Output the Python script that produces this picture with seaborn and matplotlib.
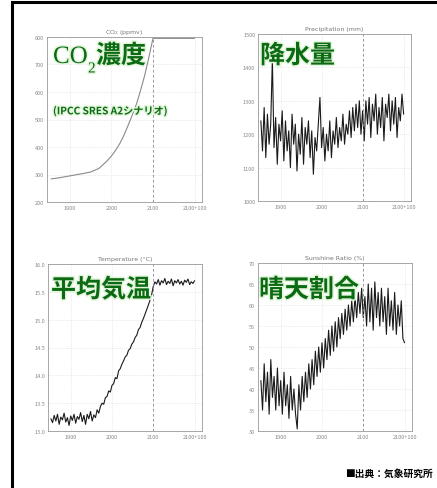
import numpy as np
import pandas as pd
import matplotlib
matplotlib.use('Agg')
import matplotlib.pyplot as plt
import matplotlib.patheffects as pe
from matplotlib.patches import Rectangle
import seaborn as sns

# years sampled every 4 years (1852 .. 2200)
years = list(range(1852, 2201, 4))

co2_years = [1855, 1870, 1900, 1930, 1950, 1970, 1990, 2000, 2010, 2020, 2030,
             2040, 2050, 2060, 2070, 2080, 2090, 2100, 2150, 2200]
co2_ppmv = [284, 287, 295, 303, 309, 322, 350, 367, 388, 412, 442,
            478, 515, 555, 605, 660, 725, 795, 795, 795]

precip_mm = [1240, 1150, 1280, 1130, 1260, 1170, 1230, 1425, 1160, 1250,
             1110, 1230, 1180, 1270, 1120, 1240, 1150, 1210, 1100, 1260,
             1170, 1230, 1090, 1200, 1140, 1250, 1110, 1220, 1170, 1240,
             1130, 1210, 1080, 1190, 1150, 1230, 1310, 1160, 1220, 1120,
             1200, 1150, 1240, 1130, 1210, 1170, 1250, 1160, 1220, 1180,
             1260, 1170, 1230, 1200, 1270, 1190, 1280, 1210, 1290, 1220,
             1300, 1200, 1270, 1180, 1300, 1230, 1310, 1190, 1290, 1240,
             1320, 1200, 1280, 1220, 1310, 1180, 1290, 1250, 1320, 1210,
             1300, 1230, 1310, 1190, 1280, 1240, 1320, 1260]

temp_c = [13.22, 13.15, 13.28, 13.18, 13.30, 13.12, 13.25, 13.20, 13.32, 13.16,
          13.24, 13.10, 13.27, 13.19, 13.30, 13.14, 13.26, 13.21, 13.33, 13.17,
          13.28, 13.12, 13.30, 13.22, 13.35, 13.18, 13.29, 13.24, 13.38, 13.32,
          13.44, 13.50, 13.48, 13.60, 13.62, 13.72, 13.70, 13.82, 13.85, 13.96,
          13.94, 14.08, 14.12, 14.20, 14.26, 14.33, 14.36, 14.45, 14.48, 14.56,
          14.60, 14.68, 14.72, 14.82, 14.86, 14.95, 15.02, 15.10, 15.18, 15.26,
          15.35, 15.45, 15.60, 15.68, 15.64, 15.72, 15.62, 15.70, 15.66, 15.74,
          15.63, 15.69, 15.65, 15.73, 15.61, 15.70, 15.66, 15.72, 15.64, 15.69,
          15.62, 15.71, 15.67, 15.73, 15.63, 15.68, 15.65, 15.70]

sunshine_pct = [42, 35, 46, 37, 44, 34, 47, 38, 43, 35,
                45, 36, 42, 34, 44, 36, 41, 33, 43, 35,
                40, 34, 30.5, 41, 35, 43, 37, 44, 38, 46,
                40, 47, 41, 49, 43, 50, 44, 51, 45, 52,
                47, 54, 48, 55, 49, 56, 50, 57, 52, 58,
                53, 59, 54, 60, 55, 61, 56, 62, 57, 63,
                58, 64, 57, 62, 55, 65, 56, 64, 54, 65.5,
                57, 63, 55, 64, 56, 62, 53, 64, 55, 61,
                54, 63, 53, 60, 55, 61, 52, 51]

x_ticks = [1900, 2000, 2100, 2200]
x_ticklabels = ['1900', '2000', '2100', '2100+100']

W, H = 437, 489

sns.set_style('white')
plt.rcParams['font.family'] = ['Noto Sans CJK JP', 'DejaVu Sans']

fig = plt.figure(figsize=(W / 100, H / 100), dpi=100)
fig.patch.set_facecolor('white')


def px_axes(left, top, right, bottom):
    return fig.add_axes([left / W, 1 - bottom / H, (right - left) / W, (bottom - top) / H])


def style_axes(ax, title, ylim, yticks):
    ax.set_xlim(1845, 2218)
    ax.set_ylim(*ylim)
    ax.set_xticks(x_ticks)
    ax.set_xticklabels(x_ticklabels)
    ax.set_yticks(yticks)
    ax.set_xlabel('')
    ax.set_ylabel('')
    ax.tick_params(labelsize=4, colors='#888888', length=2, width=0.4, pad=2, direction='in')
    ax.grid(True, linestyle=':', color='#d8d8d8', linewidth=0.5)
    for s in ax.spines.values():
        s.set_color('#999999')
        s.set_linewidth(0.6)
    ax.axvline(2100, color='#888888', linestyle=(0, (3, 3)), linewidth=0.6)
    ax.set_title(title, fontsize=4.5, color='#777777', pad=3, family='DejaVu Sans')


glow = [pe.withStroke(linewidth=2.2, foreground='#e2f6dc')]
green = '#0b6a12'


def big_label(x, y, s, size=18):
    fig.text(x / W, 1 - y / H, s, fontsize=size, color=green, fontweight='bold',
             va='center', ha='left', path_effects=glow)


# CO2
ax1 = px_axes(47, 38, 202, 203)
sns.lineplot(x=co2_years, y=co2_ppmv, ax=ax1, color='#8a8a8a', linewidth=0.8)
style_axes(ax1, 'CO$_2$ (ppmv)', (200, 800), range(200, 801, 100))

# precipitation
ax2 = px_axes(258, 35, 411, 202)
sns.lineplot(x=years, y=precip_mm, ax=ax2, color='#1a1a1a', linewidth=0.8)
style_axes(ax2, 'Precipitation (mm)', (1000, 1500), range(1000, 1501, 100))

# temperature
ax3 = px_axes(48, 265, 202, 432)
sns.lineplot(x=years, y=temp_c, ax=ax3, color='#1a1a1a', linewidth=0.8)
style_axes(ax3, 'Temperature (°C)', (13, 16), np.arange(13, 16.01, 0.5))

# sunshine ratio
ax4 = px_axes(258, 264, 412, 432)
sns.lineplot(x=years, y=sunshine_pct, ax=ax4, color='#1a1a1a', linewidth=0.8)
style_axes(ax4, 'Sunshine Ratio (%)', (30, 70), range(30, 71, 5))

# green overlay labels
fig.text(53 / W, 1 - 58 / H, 'CO', fontsize=18, color=green, va='center', ha='left',
         path_effects=glow, family='Liberation Serif')
fig.text(88 / W, 1 - 70 / H, '2', fontsize=11, color=green, va='center', ha='left',
         path_effects=glow, family='Liberation Serif')
big_label(96, 57, '濃度')
fig.text(53 / W, 1 - 112 / H, '(IPCC SRES A2シナリオ)', fontsize=7.3, color=green,
         fontweight='bold', va='center', ha='left', path_effects=glow)
big_label(260, 57, '降水量')
big_label(51, 291, '平均気温')
big_label(259, 291, '晴天割合')

fig.text(345 / W, 1 - 474 / H, '■出典：気象研究所', fontsize=7, color='black',
         fontweight='bold', va='center', ha='left')

# outer frame (cropped at right/bottom)
fig.add_artist(Rectangle((12 / W, -0.05), 1.0, (H - 3) / H + 0.05, transform=fig.transFigure,
                         fill=False, edgecolor='black', linewidth=2.2))

fig.savefig('out.png', dpi=100, facecolor='white')
